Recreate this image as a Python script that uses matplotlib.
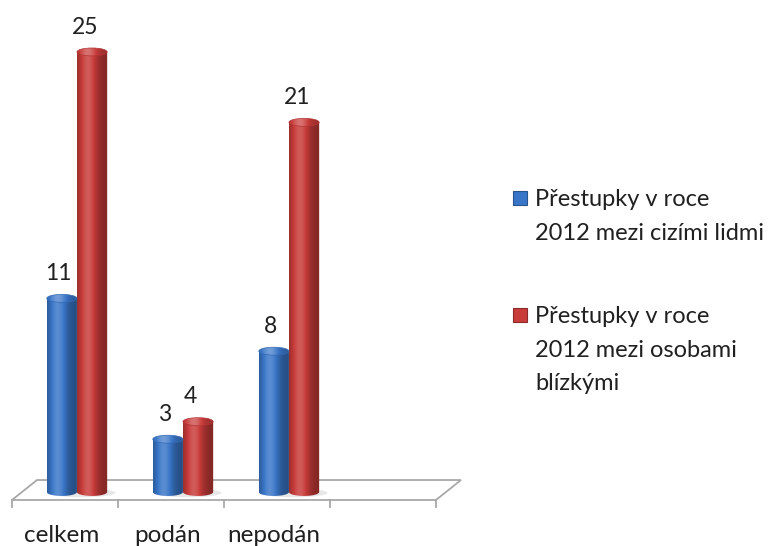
import matplotlib.pyplot as plt
import numpy as np
from matplotlib.patches import Ellipse, Polygon, Rectangle
from matplotlib.colors import to_rgb

plt.rcParams['font.family'] = ['Lato', 'DejaVu Sans']

categories = ['celkem', 'podán', 'nepodán', '']
cizi = [11, 3, 8]
blizke = [25, 4, 21]
names = ['Přestupky v roce\n2012 mezi cizími lidmi',
         'Přestupky v roce\n2012 mezi osobami\nblízkými']
colors = ['#3a76c8', '#c83c3a']

W, H = 774, 546
fig = plt.figure(figsize=(W / 100, H / 100), dpi=100)
ax = fig.add_axes([0, 0, 1, 1])
ax.set_xlim(-0.613, 6.689)
ax.set_ylim(-3.068, 27.95)
ax.axis('off')


def shade(col, t, lift=0.0):
    c = np.array(to_rgb(col))
    f = 0.66 + 0.5 * np.exp(-((t - 0.35) / 0.3) ** 2) + lift
    f = f[:, None]
    out = np.where(f > 1, c + (1 - c) * (f - 1), c * f)
    return np.clip(out, 0, 1)


def cylinder(xc, w, h, col, z):
    x0, x1 = xc - w / 2, xc + w / 2
    eh = 0.45
    th = np.linspace(np.pi, 2 * np.pi, 40)
    bottom = np.column_stack([xc + w / 2 * np.cos(th), eh / 2 * np.sin(th)])
    verts = np.vstack([[x0, h], bottom, [x1, h]])
    poly = Polygon(verts, closed=True, transform=ax.transData)
    t = np.linspace(0, 1, 120)
    im = ax.imshow(shade(col, t)[None, :, :], extent=(x0, x1, -eh, h),
                   aspect='auto', zorder=z, interpolation='bilinear')
    im.set_clip_path(poly)
    # top cap
    cap = Ellipse((xc, h), w, eh, transform=ax.transData)
    im2 = ax.imshow(shade(col, t, 0.12)[None, :, :],
                    extent=(x0, x1, h - eh / 2, h + eh / 2),
                    aspect='auto', zorder=z + 0.1, interpolation='bilinear')
    im2.set_clip_path(cap)
    ax.add_patch(Ellipse((xc, h), w, eh, facecolor='none',
                         edgecolor=np.array(to_rgb(col)) * 0.9, lw=0.5,
                         zorder=z + 0.2))


# floor
fl = [(-0.5, -0.4545), (3.5, -0.4545), (3.736, 0.68), (-0.264, 0.68)]
ax.add_patch(Polygon(fl, closed=True, facecolor='white', edgecolor='#a8a8a8',
                     lw=1.3, zorder=1))
for e in np.arange(len(categories) + 1) - 0.5:
    ax.plot([e, e], [-0.4545, -0.85], color='#a8a8a8', lw=1.3, zorder=1)

bw = 0.285
shift = 0.113
for i in range(len(cizi)):
    ax.add_patch(Ellipse((i + shift + 0.05, -0.05), 2.2 * bw, 0.5,
                         facecolor='#d8d8d8', edgecolor='none', alpha=0.6,
                         zorder=1.5))
    cylinder(i + shift + bw / 2, bw, blizke[i], colors[1], 2)
    cylinder(i + shift - bw / 2, bw, cizi[i], colors[0], 3)
    ax.text(i + shift - bw / 2 - 0.03, cizi[i] + 1.4, str(cizi[i]),
            ha='center', va='center', fontsize=16.5, color='#202020')
    ax.text(i + shift + bw / 2 - 0.07, blizke[i] + 1.4, str(blizke[i]),
            ha='center', va='center', fontsize=16.5, color='#202020')

for i, lab in enumerate(categories):
    ax.text(i - 0.03, -2.45, lab, ha='center', va='center', fontsize=17.5,
            color='#202020')

# legend
ly = [198, 315]
for k in range(2):
    y = 1 - ly[k] / H
    fig.patches.append(Rectangle((513 / W, y - 7 / H), 14 / W, 14 / H,
                                 transform=fig.transFigure,
                                 facecolor=colors[k],
                                 edgecolor=np.array(to_rgb(colors[k])) * 0.7,
                                 lw=0.8))
    fig.text(535 / W, y + 9 / H, names[k], ha='left', va='top', fontsize=17,
             linespacing=1.74, color='#202020')

fig.savefig('out.png', dpi=100)
